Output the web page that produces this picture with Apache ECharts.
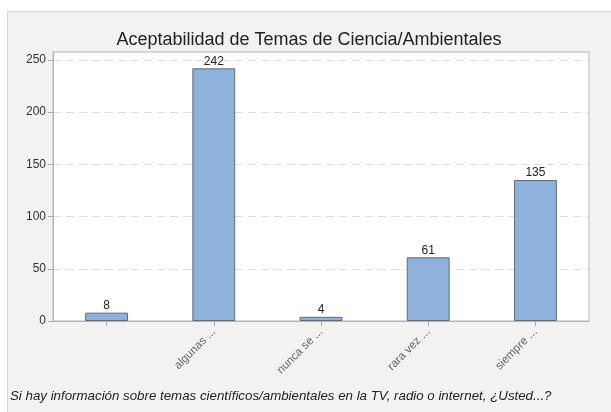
<!DOCTYPE html>
<html><head><meta charset="utf-8">
<script src="https://cdn.jsdelivr.net/npm/echarts@6/dist/echarts.min.js"></script>
<style>html,body{margin:0;padding:0;background:#fff}#c{width:611px;height:412px}</style>
</head><body><div id="c"></div>
<script>
const categories = ["", "algunas ...", "nunca se ...", "rara vez ...", "siempre ..."];
const counts = [8, 242, 4, 61, 135];
const yTicks = [0, 50, 100, 150, 200, 250];
const titleText = "Aceptabilidad de Temas de Ciencia/Ambientales";
const captionText = "Si hay información sobre temas científicos/ambientales en la TV, radio o internet, ¿Usted...?";

const chart = echarts.init(document.getElementById('c'), null, {renderer: 'canvas'});
chart.setOption({
  animation: false,
  graphic: [
    {type: 'rect', z: -10, shape: {x: 7.5, y: 11.5, width: 620, height: 420},
     style: {fill: '#f2f2f2', stroke: '#d6d6d6', lineWidth: 1}},
    {type: 'text', left: 10, top: 390, z: 10,
     style: {text: captionText, font: 'italic 13.3px "Liberation Sans", Arial, sans-serif', fill: '#222'}}
  ],
  title: {
    text: titleText, left: 304, top: 26, textAlign: 'center',
    textStyle: {fontFamily: '"Liberation Sans", Arial, sans-serif', fontSize: 18, fontWeight: 'normal', color: '#222'}
  },
  grid: {left: 53, right: 22, top: 52, bottom: 91, show: true, backgroundColor: '#fff', borderColor: '#b5b5b5', borderWidth: 1},
  xAxis: {
    type: 'category', data: categories,
    axisLine: {show: true, lineStyle: {color: '#b5b5b5'}},
    axisTick: {show: true, alignWithLabel: true, length: 5, lineStyle: {color: '#aaa'}},
    axisLabel: {rotate: 45, margin: 9, interval: 0, color: '#666', fontSize: 11.5, fontFamily: '"Liberation Sans", Arial, sans-serif'}
  },
  yAxis: {
    type: 'value', min: 0, max: 257.6, interval: 50,
    axisLine: {show: true, lineStyle: {color: '#b5b5b5'}},
    axisTick: {show: true, length: 5, lineStyle: {color: '#aaa'}, customValues: yTicks},
    axisLabel: {color: '#333', fontSize: 12, margin: 7, fontFamily: '"Liberation Sans", Arial, sans-serif', customValues: yTicks},
    splitLine: {show: true, lineStyle: {color: '#dcdcdc', type: [8, 5], width: 1}}
  },
  series: [{
    type: 'bar', data: counts, barWidth: '40%',
    itemStyle: {color: '#8fb2dd', borderColor: '#626b76', borderWidth: 1},
    label: {show: true, position: 'top', distance: 1, color: '#222', fontSize: 12, fontFamily: '"Liberation Sans", Arial, sans-serif'}
  }]
});
</script></body></html>
